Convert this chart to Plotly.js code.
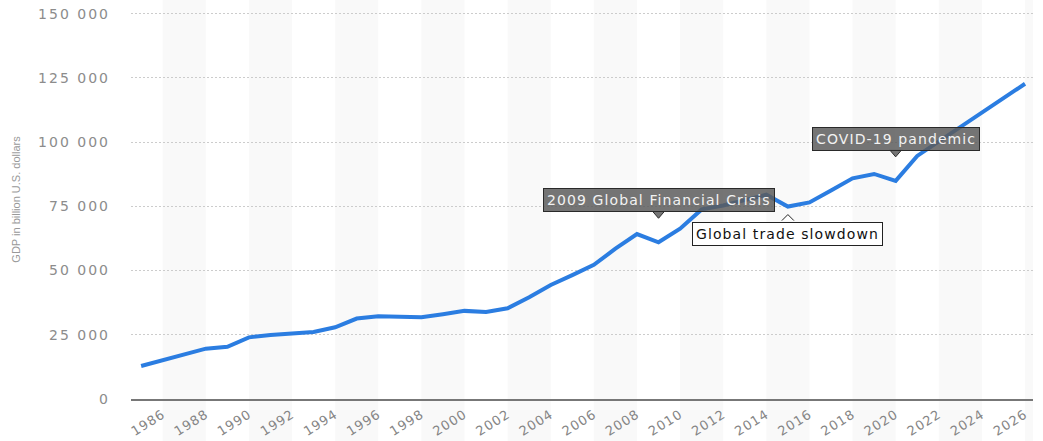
<!DOCTYPE html>
<html>
<head>
<meta charset="utf-8">
<script src="https://cdn.plot.ly/plotly-3.0.1.min.js"></script>
<style>
  html, body { margin: 0; padding: 0; background: #fff; }
  #chart { width: 1043px; height: 441px; }
  .ytick text { letter-spacing: 2px; }
  .xtick text { letter-spacing: 1px; }
  .annotation-text { letter-spacing: 1.1px; }
</style>
</head>
<body>
<div id="chart"></div>
<script>
const years = [1985,1986,1987,1988,1989,1990,1991,1992,1993,1994,1995,1996,1997,1998,1999,2000,
  2001,2002,2003,2004,2005,2006,2007,2008,2009,2010,2011,2012,2013,2014,2015,2016,2017,2018,2019,2020,
  2021,2022,2023,2024,2025,2026];
const gdp = [12850,15000,17300,19600,20300,24000,24900,25500,26100,27900,31300,32200,32000,31800,33000,34300,
  33900,35300,39600,44400,48200,52200,58500,64200,61000,66300,73800,75300,77400,79500,74900,76500,81200,85900,87600,84900,
  94600,100200,105600,111100,116800,122700];
const xTickVals = [1986,1988,1990,1992,1994,1996,1998,2000,2002,2004,2006,2008,2010,2012,2014,2016,2018,2020,2022,2024,2026];
const xTickText = xTickVals.map(String);
const yTickVals = [0,25000,50000,75000,100000,125000,150000];
const yTickText = ["0","25 000","50 000","75 000","100 000","125 000","150 000"];
const bandStarts = [1986,1990,1994,1998,2002,2006,2010,2014,2018,2022,2026];
const eventYears = [2009, 2015, 2020];
const eventLabels = ["2009 Global Financial Crisis", "Global trade slowdown", "COVID-19 pandemic"];

const valueAt = y => gdp[years.indexOf(y)];

const darkFill = 'rgba(90,90,90,0.84)';
const darkLine = '#2a2a2a';

const shapes = bandStarts.map(s => ({
  type: 'rect', xref: 'x', yref: 'paper', x0: s, x1: s + 2, y0: -0.105, y1: 1,
  fillcolor: '#f9f9f9', line: {width: 0}, layer: 'below'
}));

// small callout pointers, sized in pixels around each event point
function pointer(year, path, fill, line) {
  return {
    type: 'path', xref: 'x', yref: 'y', xsizemode: 'pixel', ysizemode: 'pixel',
    xanchor: year, yanchor: valueAt(year), path: path,
    fillcolor: fill, line: {color: line, width: 1}, layer: 'above'
  };
}
shapes.push(pointer(eventYears[0], 'M-6,31 L0,24 L6,31', darkFill, darkLine));
shapes.push(pointer(eventYears[1], 'M-6,-14 L0,-8 L6,-14', '#ffffff', '#222'));
shapes.push(pointer(eventYears[2], 'M-6,31 L0,24 L6,31', darkFill, darkLine));

const annotations = [
  {x: eventYears[0], y: valueAt(eventYears[0]), text: eventLabels[0], showarrow: false, xanchor: 'center', yanchor: 'middle',
   yshift: 42, bgcolor: darkFill, bordercolor: darkLine, borderwidth: 1, borderpad: 3,
   font: {family: 'DejaVu Sans', size: 14, color: '#f2f2f2'}},
  {x: eventYears[1], y: valueAt(eventYears[1]), text: eventLabels[1], showarrow: false, xanchor: 'center', yanchor: 'middle',
   yshift: -27, bgcolor: '#ffffff', bordercolor: '#222', borderwidth: 1, borderpad: 3,
   font: {family: 'DejaVu Sans', size: 14, color: '#111'}},
  {x: eventYears[2], y: valueAt(eventYears[2]), text: eventLabels[2], showarrow: false, xanchor: 'center', yanchor: 'middle',
   yshift: 42, bgcolor: darkFill, bordercolor: darkLine, borderwidth: 1, borderpad: 3,
   font: {family: 'DejaVu Sans', size: 14, color: '#f2f2f2'}}
];

const trace = {
  x: years, y: gdp, type: 'scatter', mode: 'lines',
  line: {color: '#2b7de1', width: 4, shape: 'linear'},
  hoverinfo: 'x+y'
};

const layout = {
  width: 1043, height: 441,
  margin: {l: 131, r: 10, t: 0, b: 42, pad: 0},
  paper_bgcolor: '#ffffff', plot_bgcolor: 'rgba(0,0,0,0)',
  showlegend: false,
  xaxis: {
    type: 'linear', range: [1984.53, 2026.37], fixedrange: true,
    tickvals: xTickVals, ticktext: xTickText, tickangle: -32,
    tickfont: {family: 'DejaVu Sans', size: 13, color: '#858585'},
    showgrid: false, zeroline: false, showline: true, linecolor: '#777', linewidth: 2,
    ticks: '', automargin: false, ticklabelstandoff: 1
  },
  yaxis: {
    range: [0, 155300], fixedrange: true,
    tickvals: yTickVals, ticktext: yTickText,
    tickfont: {family: 'DejaVu Sans', size: 14, color: '#8c8c8c'},
    showgrid: true, gridcolor: '#cccccc', griddash: '2px,2px', gridwidth: 1,
    zeroline: false, showline: false, ticks: '', automargin: false,
    ticklabelstandoff: 20,
    title: {text: 'GDP in billion U.S. dollars', standoff: 15,
      font: {family: 'Liberation Sans Narrow, Liberation Sans', size: 11, color: '#999'}}
  },
  shapes: shapes,
  annotations: annotations
};

Plotly.newPlot('chart', [trace], layout, {displayModeBar: false, staticPlot: true});
</script>
</body>
</html>
